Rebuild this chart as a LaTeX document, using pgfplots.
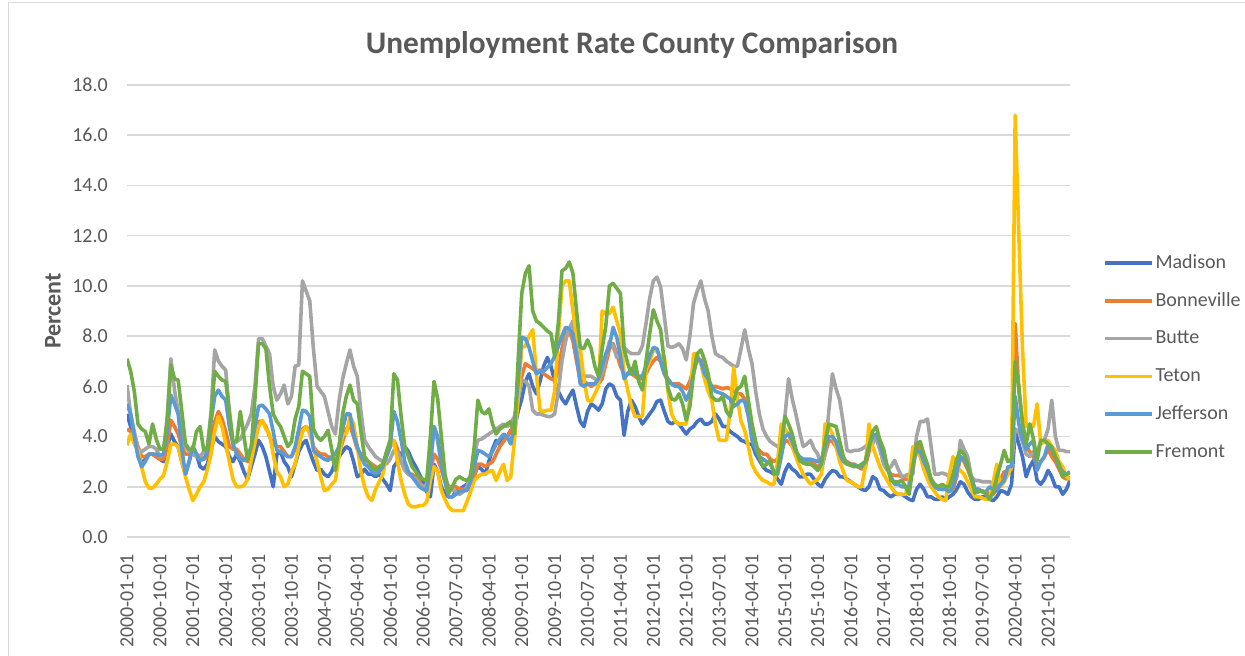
\documentclass[border=0pt]{standalone}
\usepackage{pgfplots}
\usepackage{pgfplotstable}
\pgfplotsset{compat=1.18}
\usepackage{fontspec}
\setmainfont{Carlito}
\definecolor{cMad}{HTML}{4472C4}
\definecolor{cBon}{HTML}{ED7D31}
\definecolor{cBut}{HTML}{A5A5A5}
\definecolor{cTet}{HTML}{FFC000}
\definecolor{cJef}{HTML}{5B9BD5}
\definecolor{cFre}{HTML}{70AD47}
\definecolor{txt}{HTML}{595959}
\definecolor{grd}{HTML}{D9D9D9}

% Monthly values, 2000-01 ... 2021-07 (one line per year)
\pgfplotstableread[header=false,row sep=\\]{
4.9\\4.4\\3.9\\3.4\\2.9\\3.1\\3.3\\3.3\\3.2\\3.1\\3.0\\3.6\\
4.1\\3.8\\3.6\\3.0\\2.5\\3.0\\3.6\\3.3\\2.8\\2.7\\2.9\\3.5\\
4.0\\3.8\\3.7\\3.6\\3.2\\3.0\\3.3\\3.0\\2.6\\2.3\\2.8\\3.3\\
3.85\\3.6\\3.2\\2.6\\2.0\\3.3\\3.4\\3.0\\2.8\\2.4\\2.9\\3.4\\
3.7\\3.85\\3.4\\3.0\\2.65\\2.7\\2.5\\2.4\\2.6\\3.0\\3.2\\3.4\\
3.6\\3.5\\3.0\\2.4\\2.5\\2.7\\2.5\\2.5\\2.4\\2.5\\2.3\\2.1\\
1.85\\2.8\\3.0\\3.3\\3.6\\3.4\\3.05\\2.8\\2.5\\2.2\\1.8\\1.6\\
2.9\\2.6\\2.0\\1.7\\1.6\\1.6\\1.8\\1.9\\2.0\\2.1\\2.3\\2.5\\
2.8\\2.7\\2.5\\3.0\\3.5\\3.85\\3.7\\3.9\\4.0\\4.25\\4.3\\5.0\\
5.5\\6.2\\6.5\\6.0\\5.7\\6.2\\6.8\\7.15\\6.8\\6.2\\5.8\\5.5\\
5.3\\5.6\\5.85\\5.2\\4.6\\4.4\\5.0\\5.3\\5.2\\5.05\\5.3\\5.9\\
6.1\\6.0\\5.6\\5.45\\4.05\\5.0\\5.45\\5.2\\4.8\\4.5\\4.7\\4.9\\
5.1\\5.4\\5.45\\5.0\\4.6\\4.5\\4.6\\4.5\\4.3\\4.1\\4.3\\4.4\\
4.6\\4.7\\4.5\\4.5\\4.6\\4.9\\4.7\\4.4\\4.4\\4.2\\4.1\\4.0\\
3.85\\3.8\\3.7\\3.7\\3.3\\3.05\\2.8\\2.65\\2.6\\2.5\\2.3\\2.1\\
2.6\\2.9\\2.7\\2.6\\2.4\\2.4\\2.5\\2.5\\2.3\\2.1\\2.0\\2.3\\
2.5\\2.65\\2.6\\2.4\\2.4\\2.3\\2.2\\2.1\\2.0\\1.9\\1.85\\2.0\\
2.4\\2.3\\1.9\\1.85\\1.7\\1.6\\1.7\\1.7\\1.7\\1.6\\1.5\\1.45\\
1.9\\2.1\\1.9\\1.6\\1.6\\1.5\\1.5\\1.6\\1.5\\1.6\\1.7\\1.9\\
2.2\\2.1\\1.8\\1.6\\1.5\\1.5\\1.6\\1.6\\1.5\\1.45\\1.6\\1.85\\
1.8\\1.7\\2.1\\4.2\\3.7\\3.2\\2.4\\2.8\\3.05\\2.25\\2.1\\2.3\\
2.65\\2.4\\2.0\\2.0\\1.7\\1.9\\2.25\\
}\tMad

\pgfplotstableread[header=false,row sep=\\]{
4.3\\4.2\\4.1\\3.6\\3.2\\3.2\\3.3\\3.3\\3.2\\3.1\\3.1\\3.6\\
4.65\\4.4\\4.1\\3.6\\3.3\\3.3\\3.4\\3.3\\3.2\\3.1\\3.2\\3.8\\
4.6\\5.0\\4.7\\4.2\\3.6\\3.5\\3.5\\3.3\\3.1\\3.0\\3.2\\3.7\\
4.6\\4.6\\4.4\\4.0\\3.7\\3.6\\3.6\\3.4\\3.2\\3.2\\3.5\\3.9\\
4.3\\4.4\\4.2\\3.6\\3.4\\3.3\\3.3\\3.2\\3.1\\3.0\\3.3\\3.8\\
4.3\\4.45\\4.0\\3.5\\3.3\\3.1\\3.0\\2.9\\2.8\\2.7\\2.9\\3.3\\
3.6\\3.85\\3.5\\3.0\\2.7\\2.5\\2.5\\2.4\\2.2\\2.0\\1.85\\2.6\\
3.3\\3.1\\2.7\\2.2\\2.0\\2.0\\2.0\\1.9\\1.9\\1.9\\2.0\\2.4\\
2.9\\2.9\\2.8\\2.9\\3.0\\3.3\\3.6\\3.8\\4.0\\4.2\\4.6\\5.5\\
6.4\\6.9\\6.8\\6.7\\6.6\\6.65\\6.5\\6.4\\6.3\\6.25\\6.6\\7.5\\
8.1\\8.25\\7.8\\7.0\\6.25\\6.2\\6.1\\6.0\\6.1\\6.1\\6.3\\6.9\\
7.5\\7.7\\7.3\\6.8\\6.5\\6.5\\6.5\\6.4\\6.3\\6.3\\6.5\\6.8\\
7.0\\7.15\\7.0\\6.5\\6.2\\6.1\\6.1\\6.1\\6.0\\5.9\\6.2\\6.7\\
7.0\\7.05\\6.6\\6.1\\6.0\\6.0\\5.95\\5.9\\5.95\\5.9\\5.8\\5.7\\
5.7\\5.5\\5.0\\4.4\\3.6\\3.45\\3.3\\3.3\\3.1\\3.0\\3.1\\3.4\\
3.85\\3.8\\3.6\\3.3\\3.1\\3.05\\3.0\\3.0\\2.9\\2.8\\2.9\\3.3\\
3.85\\3.8\\3.6\\3.2\\3.05\\3.0\\2.9\\2.9\\2.8\\2.7\\2.8\\3.4\\
4.1\\3.9\\3.5\\3.0\\2.7\\2.5\\2.45\\2.45\\2.4\\2.3\\2.3\\2.9\\
3.7\\3.5\\3.0\\2.6\\2.3\\2.0\\2.0\\1.9\\1.9\\1.8\\1.9\\2.4\\
3.2\\3.0\\2.7\\2.3\\1.9\\1.9\\1.8\\1.8\\1.7\\1.7\\1.9\\2.3\\
2.6\\2.6\\2.7\\8.5\\5.8\\4.6\\3.6\\3.4\\3.2\\2.8\\3.0\\3.2\\
3.5\\3.2\\3.0\\2.7\\2.4\\2.3\\2.4\\
}\tBon

\pgfplotstableread[header=false,row sep=\\]{
6.05\\4.9\\4.2\\3.45\\3.4\\3.5\\3.6\\3.6\\3.5\\3.2\\3.3\\4.8\\
7.1\\5.85\\5.0\\4.0\\3.6\\3.4\\3.3\\3.2\\3.2\\3.4\\3.6\\5.0\\
7.45\\7.0\\6.8\\6.65\\5.0\\3.7\\3.8\\3.9\\4.2\\4.5\\4.9\\6.0\\
7.9\\7.9\\7.6\\7.3\\6.0\\5.45\\5.7\\6.05\\5.3\\5.6\\6.8\\6.85\\
10.2\\9.8\\9.4\\7.5\\6.0\\5.8\\5.6\\5.0\\4.4\\4.1\\5.4\\6.3\\
6.9\\7.45\\6.8\\6.4\\5.0\\3.85\\3.6\\3.4\\3.2\\3.1\\3.0\\2.9\\
3.1\\3.45\\3.4\\3.0\\2.65\\2.5\\2.4\\2.3\\2.1\\2.0\\2.1\\3.0\\
4.4\\3.8\\2.9\\2.4\\2.0\\1.9\\1.8\\1.7\\1.8\\2.0\\2.5\\3.3\\
3.85\\3.9\\4.0\\4.1\\4.2\\4.3\\4.4\\4.5\\4.4\\4.5\\4.8\\5.5\\
6.25\\6.2\\6.0\\5.05\\4.9\\4.9\\4.85\\4.8\\4.8\\4.9\\5.8\\7.0\\
7.8\\8.3\\8.6\\7.5\\6.5\\6.4\\6.4\\6.4\\6.3\\6.25\\6.5\\7.2\\
7.8\\7.6\\7.15\\7.3\\7.55\\7.4\\7.3\\7.3\\7.3\\7.6\\8.5\\9.5\\
10.2\\10.35\\9.95\\8.8\\7.6\\7.55\\7.6\\7.7\\7.5\\7.05\\8.0\\9.3\\
9.8\\10.2\\9.5\\9.0\\8.0\\7.3\\7.2\\7.15\\7.0\\6.9\\6.8\\6.8\\
7.5\\8.25\\7.5\\6.9\\5.8\\4.9\\4.3\\4.0\\3.8\\3.7\\3.6\\3.7\\
4.8\\6.3\\5.5\\4.9\\4.2\\3.6\\3.7\\3.85\\3.5\\3.3\\2.65\\3.3\\
5.0\\6.5\\5.9\\5.45\\4.5\\3.45\\3.4\\3.45\\3.45\\3.5\\3.6\\3.7\\
3.7\\4.0\\3.5\\2.9\\2.65\\2.8\\3.05\\2.7\\2.4\\2.45\\2.5\\2.5\\
4.0\\4.6\\4.6\\4.7\\3.6\\2.5\\2.5\\2.55\\2.5\\2.4\\2.4\\2.4\\
3.85\\3.5\\3.2\\2.4\\2.25\\2.25\\2.2\\2.2\\2.2\\2.1\\2.2\\2.1\\
2.3\\2.6\\2.8\\4.3\\4.2\\3.8\\3.3\\3.2\\3.4\\3.4\\3.8\\3.85\\
4.3\\5.45\\4.0\\3.45\\3.45\\3.4\\3.4\\
}\tBut

\pgfplotstableread[header=false,row sep=\\]{
3.65\\4.1\\3.7\\3.45\\2.8\\2.2\\1.95\\1.95\\2.1\\2.3\\2.45\\3.0\\
3.7\\3.7\\3.6\\3.0\\2.4\\1.9\\1.45\\1.7\\2.0\\2.2\\2.7\\3.3\\
4.2\\4.8\\4.4\\3.7\\3.0\\2.3\\2.0\\2.0\\2.05\\2.3\\3.05\\3.8\\
4.4\\4.65\\4.3\\4.1\\3.3\\2.6\\2.4\\2.0\\2.1\\2.6\\2.9\\3.6\\
4.2\\4.4\\4.1\\3.6\\3.0\\2.4\\1.85\\1.9\\2.1\\2.25\\3.2\\4.1\\
4.1\\4.8\\4.5\\3.6\\2.6\\2.0\\1.6\\1.45\\1.9\\2.2\\2.5\\3.2\\
3.6\\3.85\\3.0\\2.25\\1.7\\1.3\\1.2\\1.2\\1.25\\1.25\\1.4\\2.25\\
2.8\\2.6\\1.85\\1.5\\1.2\\1.05\\1.05\\1.05\\1.05\\1.4\\1.8\\2.25\\
2.4\\2.5\\2.5\\2.6\\2.65\\2.25\\2.6\\2.9\\2.25\\2.4\\3.85\\5.5\\
7.55\\7.6\\8.0\\8.25\\6.5\\5.05\\5.0\\5.05\\5.05\\5.8\\8.0\\10.0\\
10.2\\10.2\\9.0\\8.0\\7.5\\6.3\\5.45\\5.4\\5.7\\6.0\\9.0\\8.9\\
8.9\\9.15\\8.6\\8.1\\6.5\\5.85\\5.2\\4.8\\4.8\\4.8\\6.65\\7.0\\
7.45\\7.4\\7.2\\7.2\\5.8\\4.9\\4.6\\4.5\\4.5\\4.5\\5.5\\7.3\\
7.3\\6.9\\6.3\\5.8\\5.45\\4.5\\3.85\\3.85\\3.85\\5.0\\6.75\\5.5\\
4.6\\4.25\\3.6\\2.9\\2.6\\2.4\\2.25\\2.2\\2.1\\2.1\\3.0\\4.5\\
4.3\\4.1\\3.6\\3.2\\2.8\\2.5\\2.3\\2.1\\2.2\\2.3\\2.5\\4.5\\
4.4\\4.1\\3.6\\3.0\\2.6\\2.25\\2.2\\2.1\\2.0\\2.0\\2.8\\4.5\\
3.6\\3.2\\2.8\\2.5\\2.25\\2.0\\1.8\\1.7\\1.7\\1.7\\2.2\\3.6\\
3.4\\3.2\\2.7\\2.3\\2.0\\1.8\\1.6\\1.5\\1.45\\2.5\\3.2\\2.8\\
2.65\\2.5\\2.2\\1.9\\1.6\\1.6\\1.55\\1.5\\1.5\\2.2\\2.9\\2.0\\
2.2\\2.5\\2.8\\16.8\\12.0\\7.5\\4.4\\4.5\\4.4\\5.3\\3.7\\3.8\\
3.85\\3.6\\3.45\\3.0\\2.8\\2.4\\2.3\\
}\tTet

\pgfplotstableread[header=false,row sep=\\]{
5.3\\4.9\\4.0\\3.2\\2.8\\3.0\\3.3\\3.3\\3.3\\3.25\\3.3\\4.2\\
5.65\\5.3\\4.9\\3.5\\2.5\\3.0\\3.6\\3.3\\3.05\\3.1\\3.4\\4.6\\
5.6\\5.85\\5.6\\5.45\\4.4\\3.7\\3.3\\3.1\\3.05\\3.2\\3.6\\4.4\\
5.2\\5.25\\5.1\\4.9\\4.2\\3.45\\3.4\\3.3\\3.2\\3.2\\3.6\\4.3\\
5.05\\5.0\\4.8\\3.45\\3.3\\3.2\\3.1\\3.05\\3.2\\3.3\\3.6\\4.3\\
4.9\\4.9\\4.1\\3.6\\3.2\\2.9\\2.8\\2.6\\2.5\\2.6\\2.8\\3.2\\
3.6\\5.0\\4.6\\3.85\\3.0\\2.6\\2.4\\2.2\\2.0\\1.9\\1.85\\2.8\\
4.4\\4.0\\2.9\\2.2\\1.6\\1.6\\1.7\\1.8\\1.85\\1.85\\2.2\\2.8\\
3.45\\3.4\\3.3\\3.2\\3.4\\3.7\\3.9\\4.1\\4.0\\3.7\\4.5\\6.2\\
7.95\\7.9\\7.55\\7.0\\6.5\\6.6\\6.6\\6.75\\6.9\\7.2\\7.6\\8.0\\
8.35\\8.3\\8.1\\7.2\\6.1\\6.0\\6.1\\6.1\\6.1\\6.3\\6.8\\7.3\\
7.6\\8.35\\7.95\\7.2\\6.3\\6.5\\6.7\\6.5\\6.4\\6.4\\6.8\\7.2\\
7.55\\7.5\\7.0\\6.5\\6.3\\6.1\\6.0\\6.0\\5.8\\5.45\\5.8\\6.5\\
7.15\\7.0\\6.5\\6.3\\6.0\\5.8\\5.75\\5.7\\5.6\\5.5\\5.2\\5.3\\
5.45\\5.4\\4.8\\3.85\\3.5\\3.2\\3.1\\3.0\\2.9\\2.6\\2.5\\3.2\\
4.0\\4.1\\3.8\\3.4\\3.2\\3.1\\3.1\\3.1\\3.05\\3.0\\3.1\\3.6\\
4.0\\4.0\\3.8\\3.3\\3.0\\2.9\\2.9\\2.85\\2.8\\2.8\\3.0\\3.6\\
4.0\\4.1\\3.7\\3.2\\2.8\\2.4\\2.1\\2.1\\2.0\\2.0\\2.0\\2.8\\
3.45\\3.4\\3.0\\2.7\\2.25\\2.0\\1.9\\1.9\\1.9\\1.8\\2.0\\2.6\\
3.2\\3.1\\2.8\\2.4\\1.9\\1.9\\1.8\\1.8\\2.0\\1.9\\1.85\\2.1\\
2.25\\2.8\\2.8\\5.6\\4.5\\3.9\\3.5\\3.7\\3.85\\2.65\\3.0\\3.2\\
3.7\\3.5\\3.2\\2.8\\2.6\\2.5\\2.6\\
}\tJef

\pgfplotstableread[header=false,row sep=\\]{
7.1\\6.6\\5.8\\4.5\\4.3\\4.2\\3.7\\4.5\\3.9\\3.5\\3.5\\4.6\\
6.85\\6.3\\6.25\\5.0\\3.7\\3.5\\3.45\\4.2\\4.4\\3.45\\3.5\\4.8\\
6.6\\6.4\\6.25\\6.2\\5.0\\3.8\\3.8\\5.0\\4.0\\3.05\\3.6\\5.5\\
7.7\\7.7\\7.5\\6.0\\4.9\\4.6\\4.4\\4.0\\3.6\\3.8\\4.7\\5.2\\
6.6\\6.5\\6.4\\4.3\\4.0\\3.85\\4.0\\4.25\\3.5\\2.65\\3.6\\4.9\\
5.6\\6.05\\5.45\\5.3\\4.2\\3.2\\3.0\\2.8\\2.65\\2.8\\2.9\\3.4\\
3.85\\6.5\\6.25\\4.8\\3.6\\3.2\\2.8\\2.6\\2.4\\2.3\\2.25\\4.0\\
6.2\\5.5\\4.0\\2.5\\1.75\\2.0\\2.3\\2.4\\2.3\\2.25\\2.4\\3.6\\
5.45\\5.0\\4.9\\5.1\\4.5\\4.1\\4.3\\4.4\\4.5\\4.6\\4.1\\7.0\\
9.7\\10.5\\10.8\\9.0\\8.6\\8.5\\8.35\\8.2\\8.1\\7.2\\8.5\\10.6\\
10.7\\10.95\\10.5\\9.0\\7.55\\7.5\\7.85\\7.5\\6.8\\6.4\\7.5\\8.4\\
10.0\\10.1\\9.9\\9.7\\7.5\\6.9\\6.5\\7.0\\6.2\\5.85\\7.0\\8.1\\
9.05\\8.6\\8.25\\7.0\\5.95\\5.5\\5.45\\5.7\\5.3\\4.65\\5.2\\6.5\\
7.3\\7.45\\7.05\\6.5\\5.6\\5.45\\5.45\\5.6\\5.0\\4.8\\5.45\\5.9\\
6.0\\6.4\\5.45\\4.5\\3.8\\3.2\\2.8\\2.9\\3.05\\2.5\\2.6\\3.6\\
4.8\\4.5\\4.1\\3.5\\3.05\\2.95\\2.9\\2.9\\2.8\\2.65\\2.9\\3.8\\
4.5\\4.45\\4.4\\3.8\\3.2\\2.9\\2.85\\2.8\\2.8\\2.9\\3.0\\3.6\\
4.2\\4.4\\3.85\\3.5\\2.8\\2.25\\2.2\\2.2\\2.25\\2.0\\1.7\\2.8\\
3.7\\3.8\\3.3\\2.9\\2.3\\2.1\\2.0\\2.1\\2.0\\2.0\\2.5\\3.1\\
3.45\\3.3\\2.9\\2.3\\1.75\\1.8\\1.85\\1.7\\1.5\\1.8\\2.4\\2.9\\
3.45\\3.0\\3.1\\7.0\\6.0\\4.5\\3.7\\4.5\\3.9\\3.05\\3.85\\3.85\\
3.7\\3.6\\3.2\\2.9\\2.4\\2.5\\2.55\\
}\tFre

\begin{document}
\begin{tikzpicture}[x=0.75pt,y=0.75pt]
\path[use as bounding box] (0,0) rectangle (1245,656);
\draw[grd, line width=0.75pt] (8,0) -- (8,653) -- (1245,653);
\begin{axis}[
  at={(95.25pt,89.25pt)}, anchor=south west,
  scale only axis, width=707.25pt, height=339pt,
  xmin=0, xmax=258, ymin=0, ymax=18,
  ytick={0,2,...,18},
  xtick={0,9,...,252},
  xticklabels={2000-01-01,2000-10-01,2001-07-01,2002-04-01,2003-01-01,2003-10-01,2004-07-01,2005-04-01,2006-01-01,2006-10-01,2007-07-01,2008-04-01,2009-01-01,2009-10-01,2010-07-01,2011-04-01,2012-01-01,2012-10-01,2013-07-01,2014-04-01,2015-01-01,2015-10-01,2016-07-01,2017-04-01,2018-01-01,2018-10-01,2019-07-01,2020-04-01,2021-01-01},
  axis line style={draw=none},
  major tick length=0pt,
  ymajorgrids, major grid style={grd, line width=1.1pt},
  tick label style={font=\fontsize{15}{18}\selectfont, text=txt},
  x tick label style={rotate=90, anchor=east, inner sep=0pt},
  y tick label style={anchor=east, inner sep=0pt},
  xticklabel shift=13pt, yticklabel shift=14.25pt,
  /pgf/number format/fixed, /pgf/number format/fixed zerofill,
  /pgf/number format/precision=1, /pgf/number format/assume math mode=true,
  title={Unemployment Rate County Comparison},
  title style={at={(axis description cs:0.5355,1.053)}, anchor=base, font=\fontsize{23.5}{28}\selectfont\bfseries, text=txt},
  ylabel={Percent},
  ylabel style={at={(axis description cs:-0.0785,0.5)}, anchor=center, font=\fontsize{18}{22}\selectfont\bfseries, text=txt},
  legend style={at={(axis description cs:1.035,0.397)}, anchor=west, draw=none, fill=none, inner sep=0pt,
    font=\fontsize{15}{18}\selectfont, text=txt, row sep=14.35pt,
    nodes={inner sep=0pt, text height=11pt, text depth=3pt}},
  legend cell align=left,
  legend image code/.code={\draw[#1] (0pt,0pt) -- (35pt,0pt);},
  every axis plot/.append style={line width=2.7pt, line join=round},
]
\addplot[cMad] table[x expr=\coordindex, y index=0] {\tMad};
\addlegendentry{\hspace{1.5pt}Madison}
\addplot[cBon] table[x expr=\coordindex, y index=0] {\tBon};
\addlegendentry{\hspace{1.5pt}Bonneville}
\addplot[cBut] table[x expr=\coordindex, y index=0] {\tBut};
\addlegendentry{\hspace{1.5pt}Butte}
\addplot[cTet] table[x expr=\coordindex, y index=0] {\tTet};
\addlegendentry{\hspace{1.5pt}Teton}
\addplot[cJef] table[x expr=\coordindex, y index=0] {\tJef};
\addlegendentry{\hspace{1.5pt}Jefferson}
\addplot[cFre] table[x expr=\coordindex, y index=0] {\tFre};
\addlegendentry{\hspace{1.5pt}Fremont}
\end{axis}
\end{tikzpicture}
\end{document}
